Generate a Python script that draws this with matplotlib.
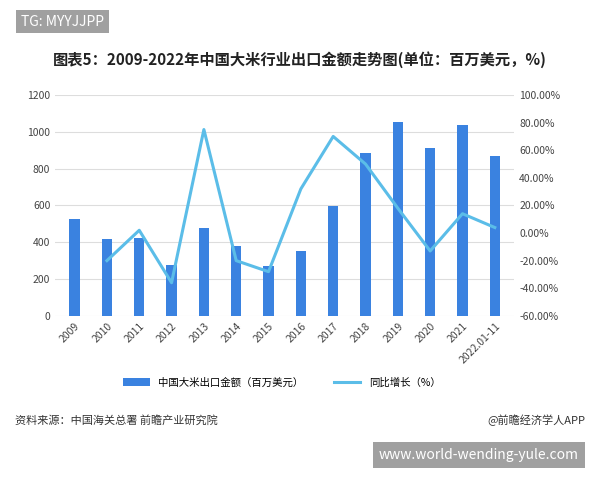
from matplotlib import pyplot as plt
from matplotlib.ticker import FuncFormatter

plt.rcParams['font.family'] = ['Noto Sans CJK SC', 'DejaVu Sans']

years = ["2009", "2010", "2011", "2012", "2013", "2014", "2015", "2016", "2017",
         "2018", "2019", "2020", "2021", "2022.01-11"]
export_value = [525, 420, 425, 275, 475, 380, 270, 355, 595, 885, 1055, 910, 1035, 870]
growth = [None, -20, 2, -36, 75, -20, -28, 32, 70, 50, 18, -13, 14, 4]

fig = plt.figure(figsize=(6, 4.8), dpi=100)
ax = fig.add_axes([0.092, 0.342, 0.765, 0.46])
x = list(range(len(years)))
ax.bar(x, export_value, width=0.32, color="#3a82e0", zorder=2, label="中国大米出口金额（百万美元）")
ax.set_ylim(0, 1200)
ax.set_yticks(range(0, 1201, 200))
ax.set_xlim(-0.6, len(years) - 0.4)
ax.set_xticks(x)
ax.set_xticklabels(years, rotation=45, ha="right", rotation_mode="anchor", fontsize=7.5, color="#444")
ax.grid(axis="y", color="#dddddd", lw=0.8, zorder=0)
for s in ax.spines.values():
    s.set_visible(False)
ax.tick_params(length=0, labelsize=7.5, colors="#444")

ax2 = ax.twinx()
gx = [i for i, g in zip(x, growth) if g is not None]
gy = [g for g in growth if g is not None]
ax2.plot(gx, gy, color="#5bbde8", lw=2.2, label="同比增长（%）")
ax2.set_ylim(-60, 100)
ax2.set_yticks(range(-60, 101, 20))
ax2.yaxis.set_major_formatter(FuncFormatter(lambda v, p: f"{v:.2f}%"))
for s in ax2.spines.values():
    s.set_visible(False)
ax2.tick_params(length=0, labelsize=7.5, colors="#444")

h1, l1 = ax.get_legend_handles_labels()
h2, l2 = ax2.get_legend_handles_labels()
fig.legend(h1 + h2, l1 + l2, loc="center", bbox_to_anchor=(0.47, 0.203), ncol=2,
           frameon=False, fontsize=7.5, handlelength=2.5, columnspacing=3)

fig.text(0.5, 0.875, "图表5：2009-2022年中国大米行业出口金额走势图(单位：百万美元，%)",
         ha="center", va="center", fontsize=11, fontweight="bold", color="#222")
fig.text(0.035, 0.955, "TG: MYYJJPP", ha="left", va="center", fontsize=10, color="white",
         bbox=dict(boxstyle="square,pad=0.35", fc="#a0a0a0", ec="none"))
fig.text(0.025, 0.125, "资料来源：中国海关总署 前瞻产业研究院", ha="left", va="center", fontsize=8, color="#333")
fig.text(0.975, 0.125, "@前瞻经济学人APP", ha="right", va="center", fontsize=8, color="#333")
fig.text(0.965, 0.052, "www.world-wending-yule.com", ha="right", va="center", fontsize=10, color="white",
         bbox=dict(boxstyle="square,pad=0.45", fc="#a0a0a0", ec="none"))

fig.savefig("out.png", dpi=100)
